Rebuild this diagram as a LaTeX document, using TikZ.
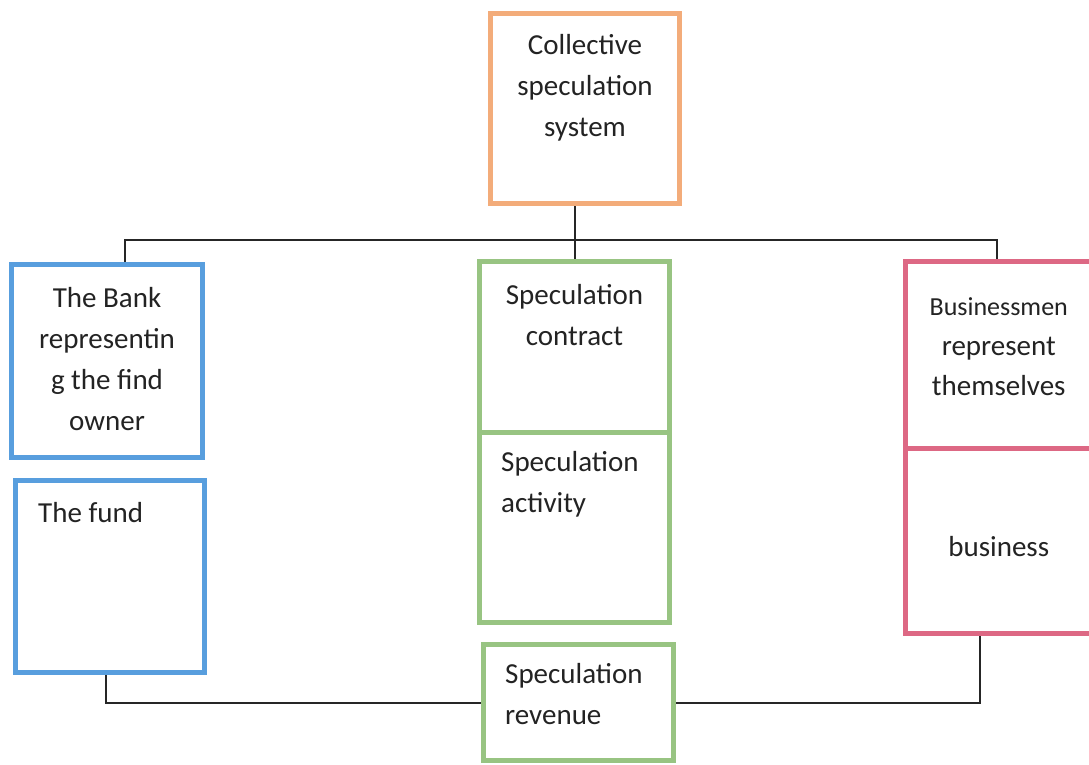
\documentclass[tikz,border=0pt]{standalone}
\usepackage{fontspec}
\setmainfont{Carlito}
\usetikzlibrary{positioning}
\definecolor{sysorange}{RGB}{243,172,122}
\definecolor{bankblue}{RGB}{88,158,222}
\definecolor{specgreen}{RGB}{152,196,130}
\definecolor{bizpink}{RGB}{221,104,132}
\definecolor{ink}{RGB}{35,35,35}

\tikzset{
  box/.style={rectangle, draw, line width=5pt, inner sep=0pt},
  lbl/.style={inner sep=0pt, text=ink, font=\fontsize{29}{41}\selectfont},
  link/.style={line width=2pt, draw=black!85},
}

\begin{document}
\begin{tikzpicture}[x=1pt, y=-1pt]
    \clip (0,0) rectangle (1089,765);
    \fill[white] (0,0) rectangle (1089,765);

    % Boxes
    \node (sys) [box, draw=sysorange, minimum width=189pt, minimum height=190pt] at (585,108.5) {};

    \node (bank) [box, draw=bankblue, minimum width=191pt, minimum height=193pt] at (107,361) {};
    \node (fund) [box, draw=bankblue, minimum width=189pt, minimum height=192pt] at (110,576.5) {};

    \node (contract) [box, draw=specgreen, minimum width=190pt, minimum height=170.5pt] at (574.5,346.75) {};
    \node (activity) [box, draw=specgreen, minimum width=190pt, minimum height=190.5pt] at (574.5,527.25) {};
    \node (revenue) [box, draw=specgreen, minimum width=190pt, minimum height=116pt] at (578.5,702.5) {};

    \node (biz) [box, draw=bizpink, minimum width=194.5pt, minimum height=186.5pt] at (1002.75,354.75) {};
    \node (bizact) [box, draw=bizpink, minimum width=194.5pt, minimum height=185.5pt] at (1002.75,540.75) {};

    % Texts
    \node (systxt) [lbl, align=center, below=23pt of sys.north] {Collective\\speculation\\system};
    \node (banktxt) [lbl, align=center, below=25pt of bank.north] {The Bank\\representin\\g the find\\owner};
    \node (fundtxt) [lbl, align=left, below right=24pt and 25pt of fund.north west] {The fund};
    \node (contracttxt) [lbl, align=center, below=25pt of contract.north] {Speculation\\contract};
    \node (activitytxt) [lbl, align=left, below right=22pt and 24pt of activity.north west] {Speculation\\activity};
    \node (revenuetxt) [lbl, align=left, below right=21pt and 24pt of revenue.north west] {Speculation\\revenue};
    \node (biztxt) [lbl, align=center, font=\fontsize{29}{40}\selectfont, xshift=-4pt, below=38pt of biz.north] {{\fontsize{26}{40}\selectfont Businessmen}\\represent\\themselves};
    \node (bizacttxt) [lbl, xshift=-4pt, yshift=-6pt] at (bizact.center) {business};

    % Connectors
    \coordinate (busL) at (125,240);
    \coordinate (busR) at (997,240);
    \coordinate (fundD) at (106,0);
    \coordinate (bizD) at (980,0);
    \draw[link] (sys.south -| contract.north) -- (contract.north);
    \draw[link] (busL |- bank.north) -- (busL) -- (busR) -- (busR |- biz.north);
    \draw[link] (fundD |- fund.south) |- (revenue.west);
    \draw[link] (revenue.east) -| (bizD |- bizact.south);
\end{tikzpicture}
\end{document}
